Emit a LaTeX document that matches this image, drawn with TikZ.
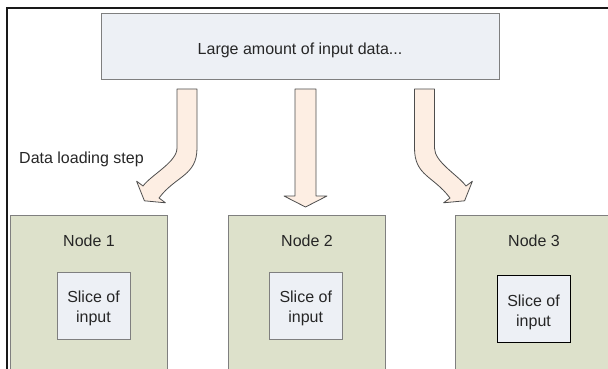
\documentclass[tikz,border=0pt]{standalone}
\usepackage{fontspec}
\setmainfont{Liberation Sans}
\usetikzlibrary{calc}

\definecolor{datafill}{HTML}{EDF0F5}
\definecolor{hostfill}{HTML}{DDE1CB}
\definecolor{flowfill}{HTML}{FDEEE3}
\definecolor{boxline}{HTML}{7F7F7F}
\definecolor{flowline}{HTML}{4D4D4D}

\tikzset{
  txt/.style={font=\fontsize{16}{20}\selectfont, inner sep=0pt, text=black!85},
  databox/.style={txt, draw=boxline, fill=datafill, line width=1pt,
    minimum width=398pt, minimum height=66pt, text height=14.6pt, text depth=0pt},
  hostbox/.style={draw=boxline, fill=hostfill, line width=1pt, anchor=north west,
    minimum width=157pt, minimum height=170pt},
  slicebox/.style={txt, fill=datafill, line width=1pt, align=center,
    minimum width=73pt, minimum height=67pt, text height=36pt, text depth=2pt},
  flow/.style={fill=flowfill, draw=flowline, line width=0.8pt, line join=round}
}

\begin{document}
\begin{tikzpicture}[x=1pt,y=-1pt]
\useasboundingbox (0,0) rectangle (608,369);
\clip (0,0) rectangle (608,369);

\node[databox] (data) at (300,47) {Large amount of input data...};
\node[txt, anchor=base west] (step) at (19,163) {Data loading step};

\foreach \i/\x/\sx/\sy/\col in {1/10/93.5/305.5/boxline, 2/228/305.75/305.5/boxline, 3/455/533.5/309/black}
{
  \node[hostbox] (host\i) at (\x,215) {};
  \node[txt, anchor=base] (name\i) at ($(host\i.north)+(0,31.7)$) {Node \i};
  \node[slicebox, draw=\col] (slice\i) at (\sx,\sy) {Slice of\\input};
}

% loading arrows
\draw[flow] (177,89) -- (197,89) -- (197,148) .. controls (197,176) and (175.8,175.6) .. (159,198)
  -- (165.4,202.8) -- (144.4,200.8) -- (136.6,181.2) -- (143,186)
  .. controls (151.4,174.8) and (177,162) .. (177,148) -- cycle;
\draw[flow] (295,89) -- (316,89) -- (316,196) -- (327,196) -- (305.5,207) -- (284,196) -- (295,196) -- cycle;
\draw[flow] (434.5,89) -- (414.5,89) -- (414.5,148) .. controls (414.5,176) and (433.2,175.6) .. (450,198)
  -- (443.6,202.8) -- (464.6,200.8) -- (472.4,181.2) -- (466,186)
  .. controls (457.6,174.8) and (434.5,162) .. (434.5,148) -- cycle;

\draw[line width=2pt, black!90] (7,369) -- (7,8) -- (608,8);
\end{tikzpicture}
\end{document}
